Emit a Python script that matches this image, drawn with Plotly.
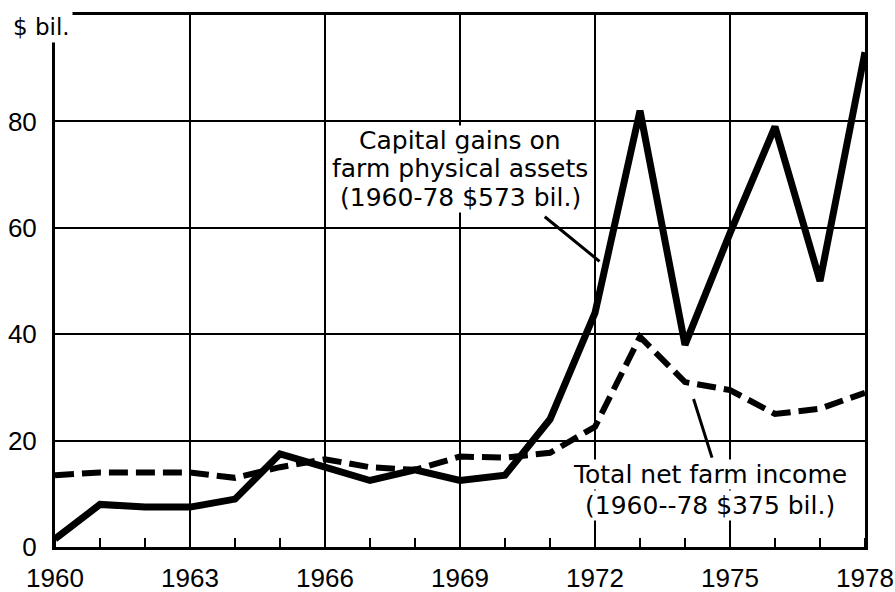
import plotly.graph_objects as go

# ---- data ----
years = list(range(1960, 1979))
capital_gains = [1.5, 8, 7.5, 7.5, 9, 17.5, 15, 12.5, 14.5, 12.5, 13.5, 24, 44, 82, 38, 59, 79, 50, 93]
net_farm_income = [13.5, 14, 14, 14, 13, 15, 16.5, 15, 14.5, 17, 16.8, 17.7, 22.6, 39.5, 31, 29.5, 25, 26, 29]
x_tick_vals = [1960, 1963, 1966, 1969, 1972, 1975, 1978]
x_tick_text = ["1960", "1963", "1966", "1969", "1972", "1975", "1978"]
y_tick_vals = [0, 20, 40, 60, 80]
y_tick_text = ["0", "20", "40", "60", "80"]

cap_label = ["Capital gains on", "farm physical assets", "(1960-78 $573 bil.)"]
inc_label = ["Total net farm income", "(1960--78 $375 bil.)"]

TICKFONT = dict(family="Liberation Sans, Arial, sans-serif", size=26, color="black")
ANNFONT = dict(family="DejaVu Sans, sans-serif", size=25, color="black")

fig = go.Figure()
fig.add_trace(go.Scatter(
    x=years, y=net_farm_income, mode="lines",
    line=dict(color="black", width=6, dash="19px,8px"),
    showlegend=False, hoverinfo="skip"))
fig.add_trace(go.Scatter(
    x=years, y=capital_gains, mode="lines",
    line=dict(color="black", width=7),
    showlegend=False, hoverinfo="skip"))

fig.update_layout(
    width=895, height=592,
    margin=dict(l=55, r=30, t=15, b=45, autoexpand=False),
    paper_bgcolor="white", plot_bgcolor="white",
    xaxis=dict(
        range=[1960, 1978], tickvals=x_tick_vals, ticktext=x_tick_text,
        showgrid=True, gridcolor="black", gridwidth=2,
        showline=True, linecolor="black", linewidth=3, mirror=True,
        ticks="", tickfont=TICKFONT, ticklabelstandoff=6, automargin=False,
        ticklabeloverflow="allow",
        minor=dict(dtick=1, tick0=1960, ticks="inside", ticklen=9,
                   tickwidth=2, tickcolor="black", showgrid=False),
        zeroline=False, fixedrange=True,
    ),
    yaxis=dict(
        range=[0, 100], tickvals=y_tick_vals, ticktext=y_tick_text,
        showgrid=True, gridcolor="black", gridwidth=2,
        showline=True, linecolor="black", linewidth=3, mirror=True,
        ticks="", tickfont=TICKFONT, ticklabelstandoff=10, automargin=False,
        ticklabeloverflow="allow",
        zeroline=False, fixedrange=True,
    ),
)

# pointer lines
fig.add_annotation(x=1972.1, y=53.7, ax=1970.85, ay=62.3, axref="x", ayref="y",
                   showarrow=True, arrowhead=0, arrowwidth=3, arrowcolor="black", text="")
fig.add_annotation(x=1974.6, y=16.8, ax=1974.18, ay=28.1, axref="x", ayref="y",
                   showarrow=True, arrowhead=0, arrowwidth=3, arrowcolor="black", text="")

# label text lines
for txt, yv in zip(cap_label, [76.4, 71.2, 65.7]):
    fig.add_annotation(x=1969.0, y=yv, text=txt, showarrow=False, font=ANNFONT,
                       bgcolor="white", borderpad=0, xanchor="center", yanchor="middle")
for txt, yv in zip(inc_label, [13.6, 7.8]):
    fig.add_annotation(x=1974.56, y=yv, text=txt, showarrow=False, font=ANNFONT,
                       bgcolor="white", borderpad=0, xanchor="center", yanchor="middle")

fig.add_annotation(xref="paper", yref="paper", x=-0.056, y=0.977, text="$ bil.",
                   showarrow=False, font=dict(family="DejaVu Sans, sans-serif", size=23, color="black"),
                   bgcolor="white", borderpad=2, xanchor="left", yanchor="middle")

fig.write_html("out.html", config={"displayModeBar": False},
               post_script="document.body.style.margin='0';document.body.style.overflow='hidden';")
